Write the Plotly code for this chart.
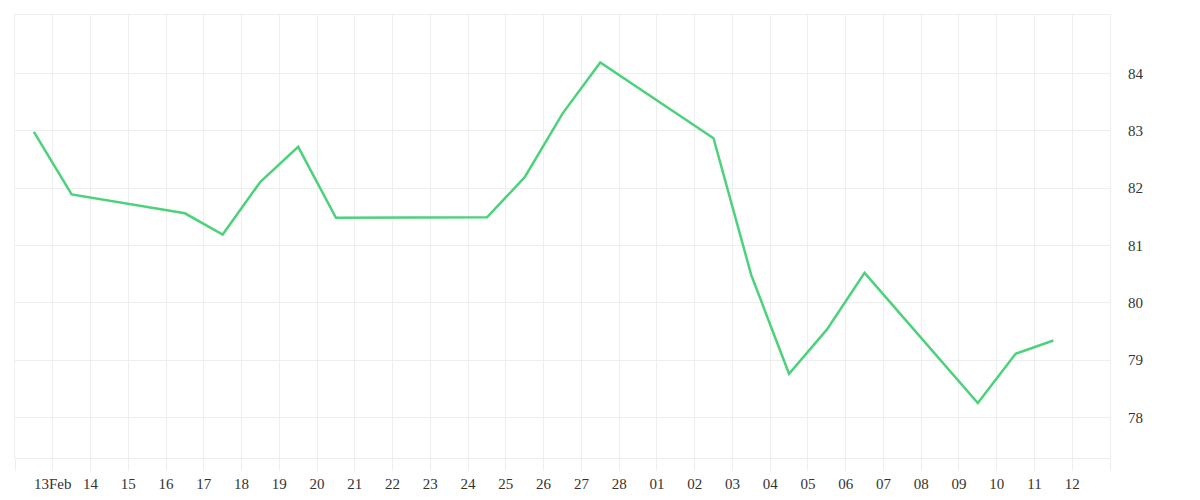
import plotly.graph_objects as go

# daily readings (timestamped at midday)
dates = [
    "2023-02-12 12:00", "2023-02-13 12:00", "2023-02-16 12:00", "2023-02-17 12:00",
    "2023-02-18 12:00", "2023-02-19 12:00", "2023-02-20 12:00", "2023-02-23 12:00",
    "2023-02-24 12:00", "2023-02-25 12:00", "2023-02-26 12:00", "2023-02-27 12:00",
    "2023-03-02 12:00", "2023-03-03 12:00", "2023-03-04 12:00", "2023-03-05 12:00",
    "2023-03-06 12:00", "2023-03-09 12:00", "2023-03-10 12:00", "2023-03-11 12:00",
]
values = [
    82.98, 81.89, 81.56, 81.19,
    82.11, 82.72, 81.48, 81.48,
    81.49, 82.19, 83.30, 84.19,
    82.87, 80.48, 78.76, 79.53,
    80.52, 78.25, 79.11, 79.34,
]

x_tickvals = [
    "2023-02-12", "2023-02-13", "2023-02-14", "2023-02-15", "2023-02-16", "2023-02-17",
    "2023-02-18", "2023-02-19", "2023-02-20", "2023-02-21", "2023-02-22", "2023-02-23",
    "2023-02-24", "2023-02-25", "2023-02-26", "2023-02-27", "2023-02-28", "2023-03-01",
    "2023-03-02", "2023-03-03", "2023-03-04", "2023-03-05", "2023-03-06", "2023-03-07",
    "2023-03-08", "2023-03-09", "2023-03-10", "2023-03-11", "2023-03-12", "2023-03-13",
]
x_ticktext = [
    "", "13Feb", "14", "15", "16", "17", "18", "19", "20", "21", "22", "23", "24", "25",
    "26", "27", "28", "01", "02", "03", "04", "05", "06", "07", "08", "09", "10", "11",
    "12", "",
]
y_tickvals = [78, 79, 80, 81, 82, 83, 84]

grid = "#eeeeee"
text_col = "#333333"

fig = go.Figure()
fig.add_trace(go.Scatter(
    x=dates, y=values, mode="lines",
    line=dict(color="#4cd27b", width=2.5),
    hoverinfo="x+y", showlegend=False,
))

fig.update_layout(
    width=1200, height=500,
    margin=dict(l=7, r=98, t=7, b=50),
    paper_bgcolor="white", plot_bgcolor="white",
    font=dict(family="Liberation Serif", size=15, color=text_col),
    xaxis=dict(
        range=["2023-02-12", "2023-03-13"],
        tickmode="array", tickvals=x_tickvals, ticktext=x_ticktext,
        showgrid=True, gridcolor=grid, gridwidth=1,
        ticks="outside", ticklen=12, tickcolor=grid, tickwidth=1,
        showline=True, linecolor=grid, linewidth=1, mirror=True,
        zeroline=False, tickangle=0,
    ),
    yaxis=dict(
        side="right", range=[77.29, 85.02],
        tickmode="array", tickvals=y_tickvals,
        showgrid=True, gridcolor=grid, gridwidth=1,
        ticks="", ticklabelstandoff=14,
        showline=True, linecolor=grid, linewidth=1, mirror=True,
        zeroline=False,
    ),
)

fig.write_html("out.html")
